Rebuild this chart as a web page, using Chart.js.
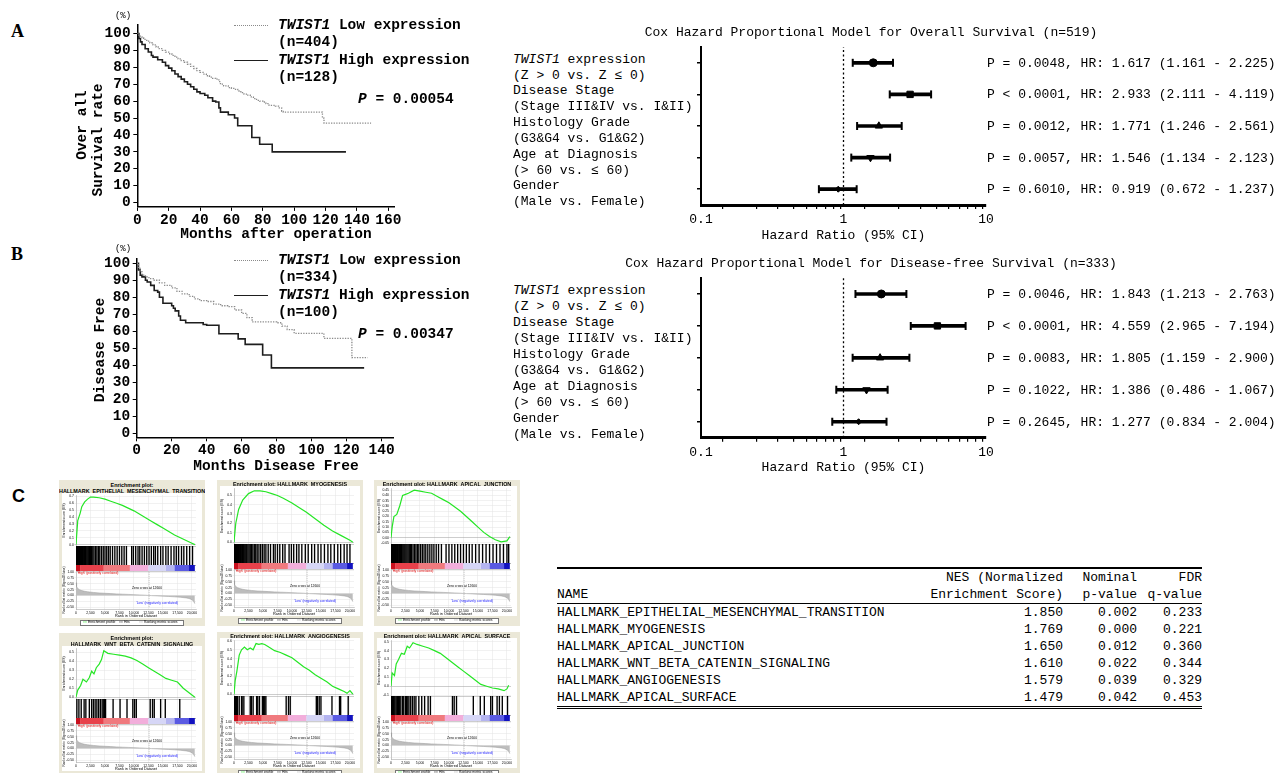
<!DOCTYPE html>
<html>
<head>
<meta charset="utf-8">
<title>TWIST1 survival and GSEA</title>
<script src="https://cdn.jsdelivr.net/npm/chart.js@4.4.1/dist/chart.umd.min.js"></script>
<style>
  body { margin: 0; background: #fff; }
  #page { position: relative; width: 1283px; height: 773px; overflow: hidden; font-family: "Liberation Mono", monospace; color: #000; }
  .t { position: absolute; white-space: nowrap; line-height: 1; }
  .km { font-weight: bold; font-size: 14.5px; }
  .fp { font-size: 13px; }
  .pl { position: absolute; font: bold 18px "Liberation Serif", serif; }
  canvas { position: absolute; }
  .panel { position: absolute; width: 146px; height: 146px; background: #ebe8d8; overflow: hidden; }
  .gt { position: absolute; left: 0; width: 146px; text-align: center; font: bold 5.4px "Liberation Sans", Arial, sans-serif; white-space: nowrap; line-height: 1; }
  .tiny { position: absolute; white-space: nowrap; font: 3.4px "Liberation Sans", Arial, sans-serif; line-height: 1; }
  .lg { position: absolute; background: #fff; border: 0.5px solid #777; height: 4px; }
  #tbl { position: absolute; left: 557px; top: 567px; border-collapse: collapse; font-size: 13px; border-top: 2px solid #000; border-bottom: 3px double #000; }
  #tbl td { padding: 0; height: 17px; line-height: 17px; white-space: pre; }
  #tbl td.r { text-align: right; }
  #tbl tr.hd2 td { border-bottom: 1px solid #000; }
</style>
</head>
<body>
<div id="page"></div>
<script>
// ===== KM data: months, % surviving =====
const osLowT = [0,1,2,3,4,6,8,10,12,14,16,18,20,22,24,26,28,30,32,34,36,38,40,42,44,46,48,50,52,53,55,58,60,62,64,66,68,70,72,74,76,78,80,82,84,88,90,92,93,118,119,149];
const osLowS = [100,99,98,97.5,96.5,95.5,94.5,93.3,92,91,90,89,88,87,86,85,84,83,81.8,80.5,79.3,78,77,76,75,74.2,73.5,73,71.5,70,69,68,67.5,67,66,65,64.2,63.5,62.5,61.5,60.5,60,59.5,58.5,57.5,57,56,54,53.5,50,47,47];
const osHighT = [0,1,2,3,5,7,9,10,13,16,18,20,22,24,26,28,30,32,34,36,38,40,43,45,48,50,52,53,58,62,64,73,78,86,133];
const osHighS = [100,97,95,93.5,91,89,87,86,84.5,83,81,79.5,78,76,74.5,73,71.5,70,68.5,67,65.5,64.5,63.5,62,60,59.5,56,53.5,52,50,45.5,38.5,34.5,30,30];
const dfsLowT = [0,1,2,3,4,5,7,10,13,16,20,23,26,30,33,36,40,44,48,52,56,60,63,66,70,76,80,83,86,90,100,107,123,132];
const dfsLowS = [100,97,95,93.5,92.5,92,91,90,88.5,87,85.5,83.5,82,80.5,79,78,77.5,76,75,74.5,72.5,70.5,68,65.5,65.5,65.5,65,63,61,58.8,58.8,55.8,44.5,44.5];
const dfsHighT = [0,1,2,3,5,6,8,10,12,13,15,20,21,22,24,25,28,38,40,47,58,62,72,77,130];
const dfsHighS = [100,96,93,92,90,89,87,84,83,80,76.5,75,73.5,72,69,66.5,65,64,63.5,58.5,55.5,52.3,46,38.5,38.5];

const kmYTicks = [0,10,20,30,40,50,60,70,80,90,100];
const osXTicks = [0,20,40,60,80,100,120,140,160];
const dfsXTicks = [0,20,40,60,80,100,120,140];

// ===== Cox model data =====
const forestRows = ['TWIST1','Stage','Grade','Age','Gender'];
const osHR   = [1.617, 2.933, 1.771, 1.546, 0.919];
const osLow  = [1.161, 2.111, 1.246, 1.134, 0.672];
const osHigh = [2.225, 4.119, 2.561, 2.123, 1.237];
const dfsHR   = [1.843, 4.559, 1.805, 1.45, 1.277];
const dfsLow  = [1.213, 2.965, 1.159, 0.89, 0.834];
const dfsHigh = [2.763, 7.194, 2.900, 2.04, 2.004];
const refHR = 1;
const forestTicks = [0.1,0.2,0.3,0.4,0.5,0.6,0.7,0.8,0.9,1,2,3,4,5,6,7,8,9,10];
const forestMajor = [0.1, 1, 10];
const forestLabel1 = ['<i>TWIST1</i> expression', 'Disease Stage', 'Histology Grade', 'Age at Diagnosis', 'Gender'];
const forestLabel2 = ['(Z &gt; 0 vs. Z ≤ 0)', '(Stage III&amp;IV vs. I&amp;II)', '(G3&amp;G4 vs. G1&amp;G2)', '(&gt; 60 vs. ≤ 60)', '(Male vs. Female)'];
const osStats = ['P = 0.0048, HR: 1.617 (1.161 - 2.225)', 'P < 0.0001, HR: 2.933 (2.111 - 4.119)', 'P = 0.0012, HR: 1.771 (1.246 - 2.561)', 'P = 0.0057, HR: 1.546 (1.134 - 2.123)', 'P = 0.6010, HR: 0.919 (0.672 - 1.237)'];
const dfsStats = ['P = 0.0046, HR: 1.843 (1.213 - 2.763)', 'P < 0.0001, HR: 4.559 (2.965 - 7.194)', 'P = 0.0083, HR: 1.805 (1.159 - 2.900)', 'P = 0.1022, HR: 1.386 (0.486 - 1.067)', 'P = 0.2645, HR: 1.277 (0.834 - 2.004)'];

// ===== GSEA data =====
const emtRank = [0,300,700,1000,1500,2000,2500,3000,4000,5000,6000,7000,8000,9000,10000,11000,12000,13000,14000,15000,16000,17000,18000,19000,20000,20500];
const emtES = [0,0.35,0.45,0.55,0.62,0.66,0.69,0.69,0.68,0.66,0.63,0.60,0.57,0.53,0.49,0.44,0.39,0.34,0.29,0.24,0.19,0.14,0.10,0.06,0.02,0];
const myoRank = [0,300,800,1500,2500,3500,4500,5500,6500,7500,8500,10000,11000,12500,14000,15500,17000,18500,20000,20500];
const myoES = [0,0.2,0.35,0.45,0.52,0.55,0.55,0.54,0.52,0.50,0.47,0.42,0.38,0.32,0.25,0.18,0.12,0.07,0.02,0];
const ajRank = [0,200,500,1000,1500,2000,2500,3000,4000,5000,6000,7000,8000,9000,10000,11000,12000,13000,14000,15000,16000,17000,18000,19000,20000,20500];
const ajES = [0,0.10,0.20,0.22,0.30,0.40,0.41,0.42,0.45,0.44,0.43,0.42,0.39,0.36,0.33,0.29,0.25,0.20,0.15,0.10,0.05,0.01,-0.02,-0.04,-0.03,0.01];
const wntRank = [0,300,800,1200,1800,2300,2700,3100,3500,4000,4400,4800,5500,6500,7500,8500,9500,10500,11500,12500,13500,14500,15500,16500,17500,18500,19500,20500];
const wntES = [0,0.08,0.13,0.20,0.17,0.22,0.29,0.26,0.33,0.37,0.42,0.52,0.49,0.48,0.47,0.46,0.44,0.41,0.37,0.33,0.29,0.25,0.21,0.19,0.17,0.10,0.05,0];
const angRank = [0,200,500,900,1300,1800,2300,2800,3300,3800,4300,4800,5300,6000,7000,8000,9000,10000,11000,12000,13000,14000,15000,16000,17000,18000,19000,19500,20000,20500];
const angES = [0,0.15,0.26,0.44,0.50,0.53,0.50,0.52,0.50,0.57,0.56,0.57,0.56,0.53,0.49,0.47,0.44,0.41,0.36,0.31,0.27,0.22,0.18,0.14,0.09,0.06,0.03,0.01,0.04,0];
const surfRank = [0,200,600,900,1300,1800,2300,2800,3200,3800,4500,5500,6500,7500,8500,9500,10500,11500,12500,13500,14500,15500,16500,17500,18500,19500,20000,20300];
const surfES = [0,0.15,0.12,0.25,0.30,0.37,0.36,0.45,0.43,0.49,0.47,0.45,0.43,0.40,0.37,0.32,0.27,0.22,0.17,0.12,0.07,0.02,0,-0.02,-0.03,-0.05,-0.03,0.01];

const emtHits = [40,90,150,220,300,380,450,520,600,680,760,850,950,1050,1150,1250,1380,1500,1620,1750,1900,2050,2200,2350,2500,2700,2900,3100,3350,3600,3850,4100,4400,4700,5000,5300,5600,5900,6300,6700,7100,7500,7900,8300,8700,9600,9900,10300,10700,11000,11400,11800,12200,12600,13000,13400,13700,14100,14600,15000,15500,15900,16400,16900,17300,17700,18200,18600,19100,19600,20100];
const myoHits = [30,80,140,200,270,350,430,520,610,700,800,900,1010,1120,1240,1360,1480,1600,1750,1900,2050,2200,2400,2600,2800,3000,3250,3500,3750,4000,4300,4600,4900,5200,5500,5900,6300,6800,7100,7500,7900,8400,8800,9500,9900,10300,10800,11200,11700,12300,12800,13400,13900,14500,15000,15600,16200,16700,17300,17900,18400,19000,19500,20000];
const ajHits = [20,70,130,190,260,330,410,500,590,690,790,900,1000,1120,1240,1370,1500,1640,1780,1920,2080,2240,2400,2580,2760,2950,3150,3350,3550,3800,4050,4300,4550,4800,5100,5400,5700,6000,6350,6700,7050,7400,7800,8200,8700,9500,10000,10500,11000,11500,12000,12500,13000,13500,14000,14600,15200,15800,16400,17000,17600,18200,18800,19400,20000,20300];
const wntHits = [150,500,900,1400,1700,2300,2700,3000,3300,3600,3900,4200,4500,4700,4900,5100,6400,7600,8800,9800,10100,10400,12800,13200,13500,14600,15400,17900];
const angHits = [30,80,150,230,330,450,600,900,1300,1400,1700,2800,3000,3300,3900,4100,4400,4900,5100,5300,5500,9000,9400,9700,14200,14400,14700,15000,16900,18200,18400,19700];
const surfHits = [40,120,250,400,550,700,900,1100,1300,1500,1700,2000,2200,2500,2700,2900,3100,3400,3700,4000,4300,4800,5300,5800,6400,6800,10600,10900,11300,14200,15400,16100,17200,17500,18300,18700,19200,20100];

const emtTicks = [0,0.1,0.2,0.3,0.4,0.5,0.6,0.7];
const myoTicks = [0,0.1,0.2,0.3,0.4,0.5];
const ajTicks = [-0.05,0,0.05,0.1,0.15,0.2,0.25,0.3,0.35,0.4,0.45];
const wntTicks = [0,0.1,0.2,0.3,0.4,0.5];
const angTicks = [0,0.1,0.2,0.3,0.4,0.5,0.6];
const surfTicks = [-0.1,0,0.1,0.2,0.3,0.4,0.5];

const rankPos = [0,100,300,600,1000,1500,2000,3000,4000,5000,6000,7000,8000,9000,10000,11000,12000,12600,13000,14000,15000,16000,17000,18000,19000,19500,20000,20300,20500];
const rankMetric = [0.55,0.38,0.30,0.25,0.21,0.18,0.16,0.13,0.11,0.095,0.08,0.068,0.057,0.046,0.036,0.025,0.012,0,-0.006,-0.018,-0.03,-0.043,-0.058,-0.077,-0.105,-0.13,-0.18,-0.26,-0.35];
const rankTicks = [-0.5,-0.25,0,0.25,0.5,0.75,1];
const gseaXTicks = [0,2500,5000,7500,10000,12500,15000,17500,20000];
const gseaMaxRank = 20700;
const zeroCross = 12600;
const bandEdges = [0,700,4800,9300,12500,15500,17000,19500,20500];
const bandColors = ['#c8101e','#e8414b','#f07a7e','#f2aedb','#d6d6f6','#b4b4f0','#5a5ae2','#1212c0'];

// ===== GSEA summary table =====
const gseaNames = ['HALLMARK_EPITHELIAL_MESENCHYMAL_TRANSITION','HALLMARK_MYOGENESIS','HALLMARK_APICAL_JUNCTION','HALLMARK_WNT_BETA_CATENIN_SIGNALING','HALLMARK_ANGIOGENESIS','HALLMARK_APICAL_SURFACE'];
const gseaNES = ['1.850','1.769','1.650','1.610','1.579','1.479'];
const gseaNomP = ['0.002','0.000','0.012','0.022','0.039','0.042'];
const gseaFDR = ['0.233','0.221','0.360','0.344','0.329','0.453'];

// ===== helpers =====
const page = document.getElementById('page');
Chart.defaults.font.family = "'Liberation Mono', monospace";
Chart.defaults.color = '#000';

function put(parent, text, x, y, cls, anchor, html, rot) {
    const d = document.createElement('div');
    d.className = cls;
    if (html) d.innerHTML = text; else d.textContent = text;
    d.style.left = x + 'px';
    d.style.top = y + 'px';
    const tx = anchor === 'c' ? '-50%' : anchor === 'r' ? '-100%' : '0';
    d.style.transform = `translate(${tx},-50%)` + (rot ? ' rotate(-90deg)' : '');
    parent.appendChild(d);
    return d;
}

function addCanvas(parent, x, y, w, h) {
    const c = document.createElement('canvas');
    c.width = w; c.height = h;
    c.style.left = x + 'px'; c.style.top = y + 'px';
    c.style.width = w + 'px'; c.style.height = h + 'px';
    parent.appendChild(c);
    return c;
}

const fixW = w => s => { s.width = w; s.paddingLeft = s.paddingRight = s.paddingTop = s.paddingBottom = 0; };
const fixH = h => s => { s.height = h; s.paddingLeft = s.paddingRight = s.paddingTop = s.paddingBottom = 0; };
const setTicks = vals => s => { s.ticks = vals.map(v => ({ value: v })); };
const base = { responsive: false, animation: false, devicePixelRatio: 1 };
const noPlugins = { legend: { display: false }, tooltip: { enabled: false } };

// ===== KM curves =====
function kmChart(box, lowT, lowS, highT, highS, xMax, xTicks, yMin, yMax, labelPad) {
    const c = addCanvas(page, box.x, box.y, box.w, box.h);
    return new Chart(c, {
        type: 'line',
        data: {
            datasets: [
                { data: lowT.map((t, i) => ({ x: t, y: lowS[i] })), borderColor: '#8a8a8a', borderWidth: 1.3, borderDash: [1.3, 1.3], stepped: true, pointRadius: 0 },
                { data: highT.map((t, i) => ({ x: t, y: highS[i] })), borderColor: '#1e1e1e', borderWidth: 1.6, stepped: true, pointRadius: 0 }
            ]
        },
        options: {
            ...base,
            layout: { padding: box.pad },
            plugins: noPlugins,
            scales: {
                x: {
                    type: 'linear', min: 0, max: xMax,
                    afterBuildTicks: setTicks(xTicks), afterFit: fixH(22),
                    grid: { drawOnChartArea: false, color: '#000', tickLength: 4 },
                    border: { color: '#000', width: 1.5 },
                    ticks: { font: { size: 14.5, weight: 'bold' }, padding: labelPad, maxRotation: 0, autoSkip: false }
                },
                y: {
                    type: 'linear', min: yMin, max: yMax,
                    afterBuildTicks: setTicks(kmYTicks), afterFit: fixW(box.yw),
                    grid: { drawOnChartArea: false, color: '#000', tickLength: 4 },
                    border: { color: '#000', width: 1.5 },
                    ticks: { font: { size: 14.5, weight: 'bold' }, padding: 2.6, autoSkip: false }
                }
            }
        }
    });
}

kmChart({ x: 80, y: 15, w: 330, h: 235, yw: 57.3, pad: { left: 0, top: 10, right: 15.4, bottom: 21.1 } },
    osLowT, osLowS, osHighT, osHighS, 164, osXTicks, -2.5, 105, 1);
kmChart({ x: 80, y: 250, w: 330, h: 235, yw: 56.7, pad: { left: 0, top: 8.3, right: 17, bottom: 25.7 } },
    dfsLowT, dfsLowS, dfsHighT, dfsHighS, 146.5, dfsXTicks, -2.35, 102.9, 0);

// KM labels and legends
put(page, 'A', 11, 31, 'pl');
put(page, 'B', 11, 254, 'pl');
put(page, 'C', 12, 496, 'pl', null, false).style.fontFamily = '"Liberation Sans", Arial, sans-serif';
put(page, '(%)', 123, 16, 't', 'c').style.fontSize = '9px';
put(page, '(%)', 123, 249, 't', 'c').style.fontSize = '9px';
put(page, 'Over all', 82, 125, 't km', 'c', false, true);
put(page, 'Survival rate', 98, 140, 't km', 'c', false, true);
put(page, 'Disease Free', 100, 350, 't km', 'c', false, true);
put(page, 'Months after operation', 276, 234, 't km', 'c');
put(page, 'Months Disease Free', 276, 466, 't km', 'c');

function kmLegend(y0, nLow, nHigh, p) {
    const dot = document.createElement('div');
    dot.style.cssText = `position:absolute;left:234px;top:${y0}px;width:34px;border-top:1.5px dotted #8a8a8a;`;
    page.appendChild(dot);
    const sol = document.createElement('div');
    sol.style.cssText = `position:absolute;left:234px;top:${y0 + 35}px;width:34px;border-top:1.8px solid #1e1e1e;`;
    page.appendChild(sol);
    put(page, '<i>TWIST1</i> Low expression', 278, y0, 't km', null, true);
    put(page, nLow, 278, y0 + 17, 't km');
    put(page, '<i>TWIST1</i> High expression', 278, y0 + 35, 't km', null, true);
    put(page, nHigh, 278, y0 + 52, 't km');
    put(page, '<i>P</i> = ' + p, 358, y0 + 74, 't km', null, true);
}
kmLegend(25, '(n=404)', '(n=128)', '0.00054');
kmLegend(260, '(n=334)', '(n=100)', '0.00347');

// ===== Forest plots =====
function forestChart(box, hr, lo, hi, stats, title) {
    const c = addCanvas(page, box.x, box.y, box.w, box.h);
    const chart = new Chart(c, {
        type: 'bar',
        data: {
            labels: forestRows,
            datasets: [
                { type: 'scatter', data: forestRows.map((r, i) => ({ x: hr[i], y: r })), yAxisID: 'y',
                  pointStyle: ['circle', 'rect', 'triangle', 'triangle', 'rectRot'], pointRotation: [0, 0, 0, 180, 0],
                  pointRadius: [4, 4.5, 4.2, 4.2, 3], backgroundColor: '#000', borderColor: '#000', borderWidth: 1 },
                { type: 'scatter', data: forestRows.flatMap((r, i) => [{ x: lo[i], y: r }, { x: hi[i], y: r }]), yAxisID: 'y',
                  pointStyle: 'line', pointRotation: 90, pointRadius: 4, borderColor: '#000', borderWidth: 2 },
                { type: 'bar', indexAxis: 'y', data: lo.map((v, i) => [v, hi[i]]), xAxisID: 'x', yAxisID: 'y',
                  backgroundColor: '#000', barThickness: 3 },
                { type: 'line', data: [{ x: refHR, y: 0 }, { x: refHR, y: 1 }], yAxisID: 'yRef',
                  borderColor: '#000', borderWidth: 1.3, borderDash: [2, 2.5], pointRadius: 0 }
            ]
        },
        options: {
            ...base,
            layout: { padding: box.pad },
            plugins: noPlugins,
            scales: {
                x: {
                    type: 'logarithmic', min: 0.1, max: 10,
                    afterBuildTicks: setTicks(forestTicks), afterFit: fixH(40),
                    grid: { drawOnChartArea: false, color: '#000', tickLength: 4, lineWidth: 1.2 },
                    border: { color: '#000', width: 3 },
                    ticks: { font: { size: 13 }, padding: 3.2, autoSkip: false, maxRotation: 0,
                             callback: v => forestMajor.includes(v) ? String(v) : '' },
                    title: { display: true, text: 'Hazard Ratio (95% CI)', font: { size: 13 }, padding: { top: 0, bottom: 2 } }
                },
                y: {
                    type: 'category', offset: true, afterFit: fixW(21),
                    grid: { offset: false, drawOnChartArea: false, color: '#000', tickLength: 4, lineWidth: 1.5 },
                    border: { color: '#000', width: 2 },
                    ticks: { callback: () => '' }
                },
                yRef: { type: 'linear', display: false, min: 0, max: 1 }
            }
        }
    });
    const ys = chart.scales.y;
    forestRows.forEach((r, i) => {
        const yc = box.y + ys.getPixelForValue(i);
        put(page, forestLabel1[i], 513, yc - 4, 't fp', null, true);
        put(page, forestLabel2[i], 513, yc + 12, 't fp', null, true);
        put(page, stats[i], 987, yc, 't fp');
    });
    put(page, title, 871, box.y + chart.chartArea.top - 15, 't fp', 'c');
}

forestChart({ x: 680, y: 35, w: 320, h: 215, pad: { left: 0, top: 12, right: 14, bottom: 5 } },
    osHR, osLow, osHigh, osStats, 'Cox Hazard Proportional Model for Overall Survival (n=519)');
forestChart({ x: 680, y: 266, w: 320, h: 215, pad: { left: 0, top: 12, right: 14, bottom: 3.3 } },
    dfsHR, dfsLow, dfsHigh, dfsStats, 'Cox Hazard Proportional Model for Disease-free Survival (n=333)');

// ===== GSEA enrichment plots =====
const gseaPanels = [
    { left: 59,  top: 480, title: ['Enrichment plot:', 'HALLMARK_EPITHELIAL_MESENCHYMAL_TRANSITION'], rank: emtRank, es: emtES, hits: emtHits, ticks: emtTicks, min: -0.02, max: 0.72, dec: 1 },
    { left: 217, top: 480, title: ['Enrichment plot: HALLMARK_MYOGENESIS'], rank: myoRank, es: myoES, hits: myoHits, ticks: myoTicks, min: -0.02, max: 0.58, dec: 1 },
    { left: 374, top: 480, title: ['Enrichment plot: HALLMARK_APICAL_JUNCTION'], rank: ajRank, es: ajES, hits: ajHits, ticks: ajTicks, min: -0.06, max: 0.47, dec: 2 },
    { left: 59,  top: 633, title: ['Enrichment plot:', 'HALLMARK_WNT_BETA_CATENIN_SIGNALING'], rank: wntRank, es: wntES, hits: wntHits, ticks: wntTicks, min: -0.02, max: 0.55, dec: 1 },
    { left: 217, top: 632, title: ['Enrichment plot: HALLMARK_ANGIOGENESIS'], rank: angRank, es: angES, hits: angHits, ticks: angTicks, min: -0.02, max: 0.61, dec: 1 },
    { left: 374, top: 632, title: ['Enrichment plot: HALLMARK_APICAL_SURFACE'], rank: surfRank, es: surfES, hits: surfHits, ticks: surfTicks, min: -0.11, max: 0.52, dec: 1 }
];

const sans = 'Liberation Sans';
const lightGrid = { color: '#e2e2e2', lineWidth: 0.5, tickLength: 1.5 };
const frame = { color: '#9a9a9a', width: 0.5 };

gseaPanels.forEach(p => {
    const div = document.createElement('div');
    div.className = 'panel';
    div.style.left = p.left + 'px';
    div.style.top = p.top + 'px';
    page.appendChild(div);

    const two = p.title.length > 1;
    const esTop = two ? 15 : 8;
    const esH = two ? 51 : 56;
    const canvasTop = esTop - 2;
    const canvasH = 2 + esH + 19 + 6 + 38 + 9;
    p.title.forEach((line, k) => {
        const t = document.createElement('div');
        t.className = 'gt';
        t.textContent = line;
        t.style.top = (two ? 2.5 + k * 6 : 2) + 'px';
        div.appendChild(t);
    });

    const c = addCanvas(div, 3, canvasTop, 140, canvasH);
    c.style.background = '#fff';
    new Chart(c, {
        type: 'line',
        data: {
            datasets: [
                { data: p.rank.map((r, k) => ({ x: r, y: p.es[k] })), yAxisID: 'yES', borderColor: '#25e625', borderWidth: 1.2, pointRadius: 0 },
                { type: 'bar', data: p.hits.map(h => ({ x: h, y: 1 })), yAxisID: 'yHits', backgroundColor: '#000', barThickness: 0.7 },
                { data: bandEdges.map(b => ({ x: b, y: 0.5 })), yAxisID: 'yBand', borderWidth: 6, borderCapStyle: 'butt', pointRadius: 0,
                  borderColor: bandColors[0], segment: { borderColor: ctx => bandColors[ctx.p0DataIndex] } },
                { data: [{ x: zeroCross, y: -0.5 }, { x: zeroCross, y: 1 }], yAxisID: 'yRank', borderColor: '#888', borderWidth: 0.5, borderDash: [1, 1], pointRadius: 0 },
                { data: rankPos.map((r, k) => ({ x: r, y: rankMetric[k] })), yAxisID: 'yRank', borderColor: '#9a9a9a', borderWidth: 0.5,
                  backgroundColor: '#bdbdbd', fill: 'origin', pointRadius: 0 }
            ]
        },
        options: {
            ...base,
            layout: { padding: { left: 0, top: 2, right: 6, bottom: 0 } },
            plugins: noPlugins,
            scales: {
                x: {
                    type: 'linear', min: 0, max: gseaMaxRank, offset: false,
                    afterBuildTicks: setTicks(gseaXTicks), afterFit: fixH(9),
                    ticks: { font: { size: 3.4, family: sans }, padding: 0.5, autoSkip: false, maxRotation: 0, callback: v => v.toLocaleString('en-US') },
                    grid: { ...lightGrid, offset: false }, border: frame,
                    title: { display: true, text: 'Rank in Ordered Dataset', font: { size: 3.8, family: sans }, padding: 0 }
                },
                yES: {
                    type: 'linear', position: 'left', stack: 'g', stackWeight: esH, weight: 4, min: p.min, max: p.max,
                    afterBuildTicks: setTicks(p.ticks), afterFit: fixW(14),
                    ticks: { font: { size: 3.4, family: sans }, padding: 0.5, autoSkip: false, callback: v => v.toFixed(p.dec) },
                    grid: { ...lightGrid, color: ctx => ctx.tick && ctx.tick.value === 0 ? '#9a9a9a' : '#e2e2e2' }, border: frame,
                    title: { display: true, text: 'Enrichment score (ES)', font: { size: 3.4, family: sans }, padding: 0 }
                },
                yHits: {
                    type: 'linear', position: 'left', stack: 'g', stackWeight: 19, weight: 3, min: 0, max: 1,
                    afterBuildTicks: setTicks([0, 1]), afterFit: fixW(14),
                    ticks: { display: false }, grid: { color: '#9a9a9a', lineWidth: 0.5, drawTicks: false }, border: frame
                },
                yBand: {
                    type: 'linear', position: 'left', stack: 'g', stackWeight: 6, weight: 2, min: 0, max: 1,
                    afterBuildTicks: setTicks([0, 1]), afterFit: fixW(14),
                    ticks: { display: false }, grid: { color: '#9a9a9a', lineWidth: 0.5, drawTicks: false }, border: frame
                },
                yRank: {
                    type: 'linear', position: 'left', stack: 'g', stackWeight: 38, weight: 1, min: -0.58, max: 1.05,
                    afterBuildTicks: setTicks(rankTicks), afterFit: fixW(14),
                    ticks: { font: { size: 3.4, family: sans }, padding: 0.5, autoSkip: false, callback: v => v.toFixed(2) },
                    grid: lightGrid, border: frame,
                    title: { display: true, text: 'Ranked list metric (Signal2Noise)', font: { size: 3.2, family: sans }, padding: 0 }
                }
            }
        }
    });

    const rankTop = canvasTop + 2 + esH + 25;
    put(div, "'High' (positively correlated)", 18, rankTop + 3, 'tiny').style.color = '#e01010';
    put(div, 'Zero cross at ' + zeroCross, 88, rankTop + 18, 'tiny', 'c');
    put(div, "'Low' (negatively correlated)", 98, rankTop + 33, 'tiny', 'c').style.color = '#2020ff';

    const lg = document.createElement('div');
    lg.className = 'lg';
    lg.style.left = '21px';
    lg.style.width = '102px';
    lg.style.top = (canvasTop + canvasH + 2) + 'px';
    lg.innerHTML =
        '<span class="tiny" style="left:2px;top:0.3px"><span style="color:#25e625">━━</span> Enrichment profile</span>' +
        '<span class="tiny" style="left:38px;top:0.3px">━━ Hits</span>' +
        '<span class="tiny" style="left:58px;top:0.3px"><span style="color:#aaa">━━</span> Ranking metric scores</span>';
    div.appendChild(lg);
});

// ===== GSEA table =====
const tbl = document.createElement('table');
tbl.id = 'tbl';
let rows = '<colgroup><col style="width:373px"><col style="width:133px"><col style="width:74px"><col style="width:65px"></colgroup>';
rows += '<tr><td></td><td class="r">NES (Normalized</td><td class="r">Nominal</td><td class="r">FDR</td></tr>';
rows += '<tr class="hd2"><td>NAME</td><td class="r">Enrichment Score)</td><td class="r">p-value</td><td class="r">q-value</td></tr>';
gseaNames.forEach((n, i) => {
    rows += `<tr><td>${n}</td><td class="r">${gseaNES[i]}</td><td class="r">${gseaNomP[i]}</td><td class="r">${gseaFDR[i]}</td></tr>`;
});
tbl.innerHTML = rows;
page.appendChild(tbl);
</script>
</body>
</html>
